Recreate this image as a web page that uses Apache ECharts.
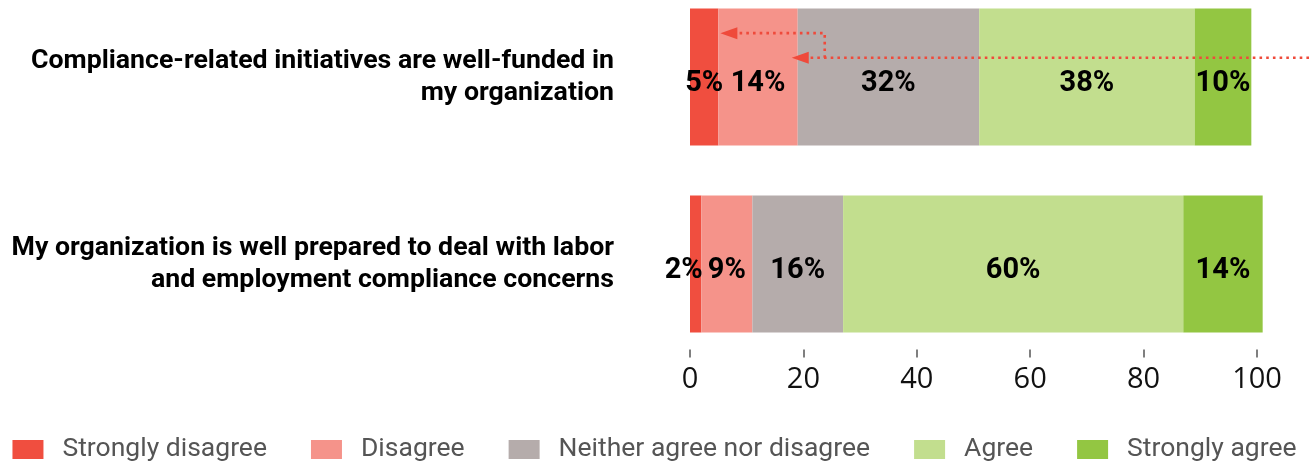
<!DOCTYPE html>
<html>
<head>
<meta charset="utf-8">
<title>Compliance survey</title>
<script src="https://cdn.jsdelivr.net/npm/echarts@6/dist/echarts.min.js"></script>
<style>
  html, body { margin: 0; padding: 0; background: #fff; }
  #chart { width: 1309px; height: 466px; }
</style>
</head>
<body>
<div id="chart"></div>
<script>
// Survey statements (top to bottom)
const statements = [
  'Compliance-related initiatives are well-funded in\nmy organization',
  'My organization is well prepared to deal with labor\nand employment compliance concerns'
];

// Response shares (%) per statement
const stronglyDisagree = [5, 2];
const disagree = [14, 9];
const neither = [32, 16];
const agree = [38, 60];
const stronglyAgree = [10, 14];

const seriesNames = ['Strongly disagree', 'Disagree', 'Neither agree nor disagree', 'Agree', 'Strongly agree'];
const seriesValues = [stronglyDisagree, disagree, neither, agree, stronglyAgree];
const seriesColors = ['#f04e3f', '#f5938a', '#b5acab', '#c2de8e', '#93c642'];

// x-axis ticks
const axisMin = 0;
const axisMax = 100;
const axisStep = 20;

const BAR_W = 137;

const chart = echarts.init(document.getElementById('chart'), null, { renderer: 'canvas' });

const series = seriesNames.map((name, si) => ({
  name: name,
  type: 'bar',
  stack: 'total',
  barWidth: BAR_W,
  clip: false,
  itemStyle: { color: seriesColors[si] },
  data: seriesValues[si].map(v => ({
    value: v,
    // very thin segments get their label nudged left so it clears the next one
    label: v < 4 ? { offset: [-12, 7] } : undefined
  })),
  label: {
    show: true,
    position: 'inside',
    formatter: '{c}%',
    color: '#000',
    fontFamily: 'Roboto',
    fontWeight: 'bold',
    fontSize: 29,
    offset: [0, 7]
  },
  emphasis: { disabled: true }
}));

// Category labels; the lower statement sits slightly below its bar's centre
const categoryData = statements.map((s, i) => (
  i === 1 ? { value: s, textStyle: { padding: [9, 0, 0, 0] } } : s
));

// The grid spans the two bar centres; the value axis is pushed down below the lower bar.
chart.setOption({
  animation: false,
  backgroundColor: '#ffffff',
  grid: { left: 690, right: 52, top: 77, height: 187, containLabel: false },
  legend: {
    data: seriesNames,
    left: 'center',
    top: 431,
    itemWidth: 31,
    itemHeight: 19,
    itemGap: 44,
    icon: 'rect',
    textStyle: { fontFamily: 'Roboto', fontSize: 26.5, color: '#555', padding: [0, 0, 0, 14] }
  },
  xAxis: {
    type: 'value',
    min: axisMin,
    max: axisMax,
    interval: axisStep,
    offset: 93.5,
    axisLine: { show: false },
    axisTick: { show: true, inside: true, length: 8, lineStyle: { color: '#555', width: 1.5 } },
    splitLine: { show: false },
    axisLabel: { margin: 8, fontFamily: 'Open Sans', fontSize: 29, color: '#111' }
  },
  yAxis: {
    type: 'category',
    inverse: true,
    boundaryGap: false,
    data: categoryData,
    axisLine: { show: false },
    axisTick: { show: false },
    splitLine: { show: false },
    axisLabel: {
      margin: 76,
      align: 'right',
      fontFamily: 'Roboto',
      fontWeight: 'bold',
      fontSize: 26.7,
      lineHeight: 32,
      color: '#000'
    }
  },
  series: series
});

// Dotted call-out arrows pointing at the cumulative disagreement boundaries of the first statement
function drawArrows() {
  const cum1 = stronglyDisagree[0];
  const cum2 = stronglyDisagree[0] + disagree[0];
  const row = statements[0];
  const p1 = chart.convertToPixel({ gridIndex: 0 }, [cum1, row]);
  const p2 = chart.convertToPixel({ gridIndex: 0 }, [cum2, row]);
  const yLow = p2[1] - BAR_W * 0.14;
  const yHigh = p1[1] - BAR_W * 0.32;
  const red = '#ef4a3b';
  const headLen = 17, headHalf = 6;
  const tipLow = p2[0] - 6;
  const tipHigh = p1[0] + 2;
  const elbowX = p2[0] + 27;
  const dash = { stroke: red, lineWidth: 2.6, lineDash: [2.6, 4.1] };
  const W = chart.getWidth();
  chart.setOption({
    graphic: [
      { type: 'polyline', silent: true, z: 100,
        shape: { points: [[W, yLow], [tipLow + headLen, yLow]] }, style: dash },
      { type: 'polyline', silent: true, z: 100,
        shape: { points: [[elbowX, yLow], [elbowX, yHigh], [tipHigh + headLen, yHigh]] }, style: dash },
      { type: 'polygon', silent: true, z: 100,
        shape: { points: [[tipLow, yLow], [tipLow + headLen, yLow - headHalf], [tipLow + headLen, yLow + headHalf]] },
        style: { fill: red } },
      { type: 'polygon', silent: true, z: 100,
        shape: { points: [[tipHigh, yHigh], [tipHigh + headLen, yHigh - headHalf], [tipHigh + headLen, yHigh + headHalf]] },
        style: { fill: red } }
    ]
  });
}
drawArrows();
</script>
</body>
</html>
